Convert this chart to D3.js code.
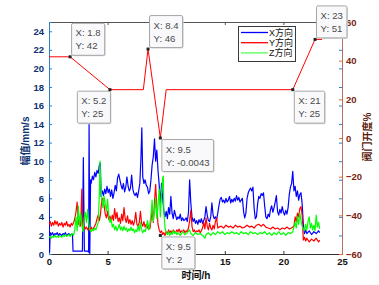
<!DOCTYPE html>
<html>
<head>
<meta charset="utf-8">
<script src="https://cdn.jsdelivr.net/npm/d3@7"></script>
<style>
  body { margin: 0; background: #fff; }
  svg { display: block; font-family: "Liberation Sans", Arial, "Noto Sans CJK SC", sans-serif; }
</style>
</head>
<body>
<svg width="379" height="285"></svg>
<script>
// X方向 vibration, mm/s (left axis)
var xDir = [[0,6.5],[0.05,0.2],[0.1,2.3],[0.2,2.1],[0.3,2.3],[0.4,2.0],[0.5,2.2],[0.6,2.1],[0.7,2.3],[0.8,2.0],[0.9,2.2],[1.0,2.1],[1.1,2.0],[1.2,2.2],[1.3,2.1],[1.4,2.3],[1.5,2.0],[1.6,2.1],[1.7,2.2],[1.8,2.0],[1.9,2.1],[2.0,2.2],[2.05,0.3],[2.3,0.3],[2.6,0.3],[2.85,0.3],[2.93,10.4],[3.02,0.3],[3.3,0.3],[3.38,0.2],[3.42,14.2],[3.48,0],[3.55,8.0],[3.6,7.6],[3.7,8.4],[3.8,8.0],[3.9,8.8],[4.0,8.3],[4.1,9.0],[4.2,8.7],[4.3,9.6],[4.38,9.8],[4.45,6.2],[4.55,6.8],[4.65,6.3],[4.75,7.0],[4.85,6.5],[4.95,7.3],[5.05,6.6],[5.15,7.0],[5.25,6.2],[5.35,6.9],[5.45,6.0],[5.55,6.6],[5.65,7.4],[5.75,6.8],[5.85,8.2],[5.95,8.6],[6.05,8.0],[6.15,7.4],[6.25,7.0],[6.35,7.6],[6.45,6.7],[6.55,7.2],[6.65,8.3],[6.75,7.3],[6.85,6.8],[6.95,7.1],[7.05,8.5],[7.15,7.0],[7.25,6.5],[7.35,6.3],[7.45,6.6],[7.55,6.1],[7.65,6.8],[7.75,7.6],[7.85,10.5],[7.92,13.6],[8.0,8.3],[8.1,7.6],[8.2,8.0],[8.3,7.4],[8.4,7.2],[8.5,6.5],[8.6,6.8],[8.7,8.0],[8.8,9.6],[8.9,10.5],[9.0,12.4],[9.1,10.0],[9.2,11.2],[9.3,9.0],[9.4,7.5],[9.5,5.2],[9.6,7.6],[9.7,6.0],[9.8,4.6],[9.9,4.0],[10.0,4.6],[10.1,3.8],[10.2,5.0],[10.3,4.3],[10.4,6.2],[10.5,4.4],[10.6,3.8],[10.7,4.7],[10.8,4.2],[10.9,3.7],[11.0,4.0],[11.1,3.8],[11.2,4.3],[11.3,3.6],[11.4,3.9],[11.5,3.6],[11.6,3.7],[11.7,3.9],[11.8,3.5],[11.9,4.5],[12.0,8.0],[12.1,5.5],[12.2,4.0],[12.3,3.5],[12.4,3.8],[12.5,3.3],[12.6,3.6],[12.7,3.2],[12.8,3.7],[12.9,3.4],[13.0,3.8],[13.1,3.3],[13.2,3.6],[13.3,4.0],[13.4,5.1],[13.5,4.2],[13.6,3.6],[13.7,3.5],[13.8,4.0],[13.9,5.5],[14.0,4.2],[14.1,3.8],[14.2,4.0],[14.3,3.7],[14.4,4.4],[14.5,5.2],[14.6,5.9],[14.7,6.1],[14.8,5.6],[14.9,5.8],[15.0,5.5],[15.1,6.0],[15.2,5.6],[15.3,5.8],[15.4,6.2],[15.5,5.5],[15.6,5.9],[15.7,5.6],[15.8,6.0],[15.9,5.7],[16.0,6.3],[16.1,5.8],[16.2,6.1],[16.3,5.6],[16.4,5.8],[16.5,6.0],[16.6,4.6],[16.7,3.9],[16.8,4.4],[16.9,6.0],[17.0,6.6],[17.1,6.9],[17.2,7.1],[17.3,6.8],[17.4,7.2],[17.5,5.0],[17.6,3.8],[17.7,4.0],[17.8,5.4],[17.9,6.2],[18.0,6.0],[18.1,6.5],[18.2,6.3],[18.3,6.6],[18.4,5.2],[18.5,4.0],[18.6,3.8],[18.7,4.3],[18.8,4.0],[18.9,4.8],[19.0,5.2],[19.1,4.5],[19.2,5.0],[19.3,5.6],[19.4,6.3],[19.5,4.6],[19.6,4.2],[19.7,4.8],[19.8,4.4],[19.9,5.1],[20.0,4.5],[20.1,4.2],[20.2,4.7],[20.3,4.3],[20.4,5.0],[20.5,6.4],[20.6,7.2],[20.7,7.6],[20.8,8.9],[20.9,6.8],[21.0,7.3],[21.1,6.2],[21.2,6.8],[21.3,5.8],[21.4,6.4],[21.5,6.6],[21.6,5.4],[21.7,3.2],[21.8,2.2],[21.9,2.6],[22.0,2.2],[22.2,2.5],[22.4,2.1],[22.6,2.4],[22.8,2.2],[23.0,2.5],[23.1,2.3]];

// Y方向 vibration, mm/s (left axis)
var yDir = [[0,3.2],[0.1,3.5],[0.2,3.0],[0.3,3.4],[0.4,3.1],[0.5,3.6],[0.6,3.2],[0.7,3.5],[0.8,3.0],[0.9,3.3],[1.0,3.1],[1.1,3.4],[1.2,2.9],[1.3,3.3],[1.4,3.1],[1.5,3.5],[1.6,3.0],[1.7,3.2],[1.8,2.9],[1.9,3.3],[2.0,3.1],[2.1,3.4],[2.2,3.8],[2.3,4.5],[2.4,5.6],[2.5,3.2],[2.6,3.6],[2.7,3.0],[2.8,7.0],[2.85,3.5],[2.9,2.6],[3.0,3.0],[3.1,2.7],[3.2,2.9],[3.3,2.6],[3.4,2.8],[3.5,2.5],[3.6,2.9],[3.7,2.6],[3.8,2.8],[3.9,3.0],[4.0,3.3],[4.1,3.8],[4.2,4.2],[4.3,3.6],[4.4,4.4],[4.5,5.8],[4.6,6.0],[4.7,5.2],[4.8,4.3],[4.9,3.9],[5.0,4.6],[5.1,3.7],[5.2,4.1],[5.3,3.5],[5.4,4.2],[5.5,3.6],[5.6,4.9],[5.7,3.8],[5.8,4.5],[5.9,3.5],[6.0,3.9],[6.1,3.3],[6.2,4.3],[6.3,3.6],[6.4,5.0],[6.5,3.8],[6.6,3.4],[6.7,4.1],[6.8,3.3],[6.9,3.7],[7.0,3.2],[7.1,3.6],[7.2,3.1],[7.3,3.5],[7.4,4.5],[7.5,3.2],[7.6,3.0],[7.7,3.4],[7.8,4.6],[7.9,3.3],[8.0,3.0],[8.1,3.5],[8.2,2.9],[8.3,3.2],[8.4,2.8],[8.5,3.1],[8.6,2.7],[8.7,3.6],[8.8,4.8],[8.9,3.4],[9.0,5.6],[9.1,7.5],[9.2,5.0],[9.3,3.2],[9.4,2.6],[9.5,2.3],[9.6,2.5],[9.7,2.1],[9.8,2.3],[9.9,2.0],[10.0,2.4],[10.1,2.2],[10.2,2.6],[10.3,2.3],[10.4,2.5],[10.5,2.2],[10.6,2.6],[10.7,2.4],[10.8,2.3],[10.9,2.6],[11.0,2.4],[11.1,2.7],[11.2,2.3],[11.3,2.5],[11.4,2.4],[11.5,2.6],[11.6,2.3],[11.7,2.5],[11.8,2.4],[11.9,2.8],[12.0,3.6],[12.1,4.7],[12.2,3.0],[12.3,2.4],[12.4,2.6],[12.5,2.3],[12.6,2.5],[12.7,2.4],[12.8,2.6],[12.9,2.3],[13.0,2.5],[13.1,2.8],[13.2,3.4],[13.3,2.7],[13.4,3.9],[13.5,3.0],[13.6,2.6],[13.7,3.3],[13.8,2.8],[13.9,2.6],[14.0,3.1],[14.1,2.7],[14.2,3.5],[14.3,3.9],[14.4,2.8],[14.5,2.9],[14.7,3.0],[14.9,2.8],[15.1,3.1],[15.3,2.9],[15.5,3.0],[15.7,2.8],[15.9,3.1],[16.1,2.9],[16.3,3.0],[16.5,2.8],[16.7,2.9],[16.9,3.1],[17.1,2.9],[17.3,3.0],[17.5,2.8],[17.7,3.1],[17.9,3.2],[18.1,3.0],[18.3,3.2],[18.5,2.9],[18.7,2.8],[18.9,2.7],[19.1,2.9],[19.3,2.7],[19.5,2.8],[19.7,2.6],[19.9,2.8],[20.1,2.7],[20.3,2.9],[20.5,2.7],[20.7,2.8],[20.9,3.0],[21.0,4.0],[21.1,3.5],[21.2,4.4],[21.3,4.0],[21.4,4.9],[21.5,5.1],[21.6,4.2],[21.7,1.5],[21.8,1.8],[21.9,1.4],[22.0,1.7],[22.2,1.3],[22.4,1.6],[22.6,1.4],[22.8,1.7],[23.0,1.3],[23.1,1.5]];

// Z方向 vibration, mm/s (left axis)
var zDir = [[0,1.8],[0.1,1.9],[0.2,1.7],[0.3,1.9],[0.4,1.8],[0.5,2.0],[0.6,1.8],[0.7,1.9],[0.8,1.8],[0.9,2.0],[1.0,1.9],[1.1,1.8],[1.2,2.0],[1.3,1.9],[1.4,2.1],[1.5,1.9],[1.6,2.0],[1.7,2.1],[1.8,1.9],[1.9,2.1],[2.0,2.2],[2.1,2.0],[2.2,2.6],[2.3,4.0],[2.4,2.5],[2.5,5.2],[2.6,3.0],[2.7,4.4],[2.8,3.2],[2.9,2.4],[3.0,3.8],[3.1,4.5],[3.2,3.4],[3.3,4.8],[3.4,3.2],[3.5,2.6],[3.6,2.4],[3.7,2.7],[3.8,2.5],[3.9,2.8],[4.0,2.6],[4.1,3.0],[4.2,3.4],[4.3,6.5],[4.35,10.0],[4.4,8.0],[4.5,6.0],[4.6,5.0],[4.7,6.2],[4.8,5.4],[4.9,4.6],[5.0,5.9],[5.1,4.0],[5.2,3.4],[5.3,3.8],[5.4,2.9],[5.5,3.2],[5.6,2.6],[5.7,3.0],[5.8,2.5],[5.9,2.8],[6.0,3.2],[6.1,2.6],[6.2,2.9],[6.3,2.5],[6.4,3.0],[6.5,2.6],[6.6,2.8],[6.7,2.4],[6.8,2.7],[6.9,2.5],[7.0,2.9],[7.1,2.5],[7.2,2.7],[7.3,2.3],[7.4,2.6],[7.5,2.4],[7.6,3.0],[7.7,2.5],[7.8,3.4],[7.9,2.6],[8.0,2.3],[8.1,2.6],[8.2,2.4],[8.3,2.8],[8.4,3.6],[8.5,2.6],[8.6,3.2],[8.7,4.2],[8.8,5.8],[8.9,3.5],[9.0,4.5],[9.1,6.0],[9.2,3.8],[9.3,5.2],[9.4,7.0],[9.5,4.0],[9.6,6.5],[9.7,8.2],[9.75,8.4],[9.8,4.5],[9.9,2.8],[10.0,2.3],[10.1,2.1],[10.2,2.4],[10.3,2.0],[10.4,2.3],[10.5,2.1],[10.6,2.5],[10.7,2.2],[10.8,2.4],[10.9,2.1],[11.0,2.3],[11.2,2.0],[11.4,2.4],[11.6,2.1],[11.8,2.3],[12.0,2.6],[12.1,2.2],[12.3,2.0],[12.5,2.3],[12.7,2.1],[12.9,2.2],[13.1,2.0],[13.3,1.7],[13.4,2.1],[13.6,2.3],[13.8,2.0],[14.0,2.3],[14.2,2.1],[14.4,2.4],[14.6,2.2],[14.8,2.4],[15.0,2.1],[15.2,2.3],[15.4,2.2],[15.6,2.4],[15.8,2.2],[16.0,2.3],[16.2,2.1],[16.4,2.4],[16.6,2.2],[16.8,2.3],[17.0,2.1],[17.2,2.4],[17.4,2.2],[17.6,2.3],[17.8,2.1],[18.0,2.3],[18.2,2.2],[18.4,2.4],[18.6,2.1],[18.8,2.3],[19.0,2.0],[19.2,2.3],[19.4,2.1],[19.6,2.4],[19.8,2.1],[20.0,2.3],[20.2,2.0],[20.4,2.3],[20.6,2.2],[20.8,2.4],[21.0,3.4],[21.1,2.8],[21.2,4.0],[21.3,3.2],[21.4,4.4],[21.5,3.6],[21.6,3.0],[21.7,2.7],[21.8,2.5],[21.9,3.2],[22.0,2.6],[22.1,3.5],[22.2,4.0],[22.3,2.8],[22.4,3.3],[22.5,2.6],[22.6,3.1],[22.7,2.5],[22.8,4.2],[22.9,2.9],[23.0,3.4],[23.1,2.7]];

// valve opening % (right axis)
var valve = [[0,42],[1.8,42],[5.2,25],[8.05,25],[8.45,46],[9.5,-0.0043],[10.0,25],[20.8,25],[22.7,51],[23.3,51]];

var seriesNames = ["X方向", "Y方向", "Z方向"];
var seriesColors = ["#0000ff", "#ff0000", "#00ff00"];

var xTicks = [0, 5, 10, 15, 20, 25];
var xHiddenLabels = [10];   // covered by a data tip in the original
var yLeftTicks = [0, 2, 4, 6, 8, 10, 12, 14, 16, 18, 20, 22, 24];
var yRightTicks = [-60, -40, -20, 0, 20, 40, 60];

// data tips: point, which axis, and shown text
var tips = [
  {t: 1.8,  v: 42,      axis: "R", lx: "1.8", ly: "42"},
  {t: 5.2,  v: 25,      axis: "R", lx: "5.2", ly: "25"},
  {t: 8.45, v: 46,      axis: "R", lx: "8.4", ly: "46"},
  {t: 9.5,  v: -0.0043, axis: "R", lx: "9.5", ly: "-0.0043"},
  {t: 9.5,  v: 2,       axis: "L", lx: "9.5", ly: "2"},
  {t: 20.8, v: 25,      axis: "R", lx: "21",  ly: "25"},
  {t: 22.7, v: 51,      axis: "R", lx: "23",  ly: "51"}
];
// box corner relative to the point: "ne" box above-right, "se" below-right, "sw" below-left
var tipSide = ["ne", "sw", "ne", "se", "se", "se", "ne"];

var svg = d3.select("svg");
var L = 49, R = 342, T = 22, B = 254;

var x = d3.scaleLinear().domain([0, 25]).range([L, R]);
var yL = d3.scaleLinear().domain([0, 25]).range([B, T]);
var yR = d3.scaleLinear().domain([-60, 60]).range([B, T]);

svg.append("defs").append("clipPath").attr("id", "plot")
   .append("rect").attr("x", L).attr("y", T).attr("width", R - L).attr("height", B - T);

var leftBlue = "#2b7fc4", rightBrown = "#b9705c";

// top frame line with ticks
svg.append("g").attr("transform", "translate(0," + T + ")")
   .call(d3.axisTop(x).tickValues(xTicks).tickSize(-3).tickFormat(""))
   .call(function(g){ g.select(".domain").attr("stroke", "#555"); g.selectAll("line").attr("stroke", "#555"); });

// bottom axis
var gx = svg.append("g").attr("transform", "translate(0," + B + ")")
   .call(d3.axisBottom(x).tickValues(xTicks).tickSize(-3).tickPadding(4)
     .tickFormat(function(d){ return xHiddenLabels.indexOf(d) >= 0 ? "" : d; }));
gx.select(".domain").attr("stroke", "#333");
gx.selectAll("line").attr("stroke", "#333");
gx.selectAll("text").attr("font-size", 9.5).attr("font-weight", "bold").attr("fill", "#111");

// left axis
var gl = svg.append("g").attr("transform", "translate(" + L + ",0)")
   .call(d3.axisLeft(yL).tickValues(yLeftTicks).tickSize(-3).tickPadding(5));
gl.select(".domain").attr("stroke", leftBlue);
gl.selectAll("line").attr("stroke", leftBlue);
gl.selectAll("text").attr("font-size", 9.5).attr("font-weight", "bold").attr("fill", "#0b3272");

// mirrored left ticks on the right edge
svg.append("g").attr("transform", "translate(" + R + ",0)")
   .call(d3.axisRight(yL).tickValues(yLeftTicks.slice(1)).tickSize(-3).tickFormat(""))
   .call(function(g){ g.select(".domain").remove(); g.selectAll("line").attr("stroke", leftBlue); });

// right axis
var gr = svg.append("g").attr("transform", "translate(" + R + ",0)")
   .call(d3.axisRight(yR).tickValues(yRightTicks).tickSize(-3).tickPadding(4));
gr.select(".domain").attr("stroke", rightBrown);
gr.selectAll("line").attr("stroke", "#e0702a");
gr.selectAll("text").attr("font-size", 9.5).attr("font-weight", "bold").attr("fill", "#7a2410");

// axis titles
svg.append("text").attr("x", 196).attr("y", 279).attr("text-anchor", "middle")
   .attr("font-size", 10).attr("font-weight", "bold").attr("fill", "#111").text("时间/h");
svg.append("text").attr("transform", "translate(29,141) rotate(-90)").attr("text-anchor", "middle")
   .attr("font-size", 10).attr("font-weight", "bold").attr("fill", "#0b3272").text("幅值/mm/s");
svg.append("text").attr("transform", "translate(371,137) rotate(-90)").attr("text-anchor", "middle")
   .attr("font-size", 10).attr("font-weight", "bold").attr("fill", "#5a1a08").text("阀门开度%");

// vibration lines
var lineL = d3.line().x(function(d){ return x(d[0]); }).y(function(d){ return yL(d[1]); });
var lineR = d3.line().x(function(d){ return x(d[0]); }).y(function(d){ return yR(d[1]); });

var plot = svg.append("g").attr("clip-path", "url(#plot)");
[xDir, yDir, zDir].forEach(function(s, i){
  plot.append("path").attr("d", lineL(s)).attr("fill", "none")
      .attr("stroke", seriesColors[i]).attr("stroke-width", 1.2).attr("stroke-linejoin", "round");
});
plot.append("path").attr("d", lineR(valve)).attr("fill", "none")
    .attr("stroke", "#ff0000").attr("stroke-width", 1);

// legend
var lg = svg.append("g");
lg.append("rect").attr("x", 238.5).attr("y", 26.5).attr("width", 57).attr("height", 35)
  .attr("fill", "#fff").attr("stroke", "#3a3a3a").attr("stroke-width", 1);
seriesNames.forEach(function(n, i){
  var yy = 32.5 + i * 10.2;
  lg.append("line").attr("x1", 241).attr("x2", 268).attr("y1", yy).attr("y2", yy)
    .attr("stroke", i == 2 ? "#55ff55" : seriesColors[i]).attr("stroke-width", 1.3);
  lg.append("text").attr("x", 269).attr("y", yy + 3.3).attr("font-size", 9).attr("fill", "#111").text(n);
});

// data tips
var tg = svg.append("g");
tips.forEach(function(d, i){
  var px = x(d.t), py = d.axis == "R" ? yR(d.v) : yL(d.v);
  var g = tg.append("g");
  var t1 = g.append("text").attr("font-size", 9.6).attr("fill", "#4a4a4a").text("X: " + d.lx);
  var t2 = g.append("text").attr("font-size", 9.6).attr("fill", "#4a4a4a").text("Y: " + d.ly);
  var w = Math.max(t1.node().getComputedTextLength(), t2.node().getComputedTextLength()) + 8;
  var h = 32;
  var side = tipSide[i];
  var bx = side == "sw" ? px - w : px + 1;
  var by = side == "ne" ? py - h - 2 : py + 1;
  g.insert("rect", "text").attr("x", bx + 1.5).attr("y", by + 1.5).attr("width", w).attr("height", h)
   .attr("fill", "#d8d8d8").attr("rx", 1.5);
  g.insert("rect", "text").attr("x", bx + 0.5).attr("y", by + 0.5).attr("width", w).attr("height", h)
   .attr("fill", "#f9f9fb").attr("stroke", "#a6a6a6").attr("rx", 1.5);
  t1.attr("x", bx + 4.5).attr("y", by + 13.5);
  t2.attr("x", bx + 4.5).attr("y", by + 26.5);
  tg.append("rect").attr("x", px - 1.5).attr("y", py - 1.5).attr("width", 3).attr("height", 3)
    .attr("fill", "#222");
});
</script>
</body>
</html>
